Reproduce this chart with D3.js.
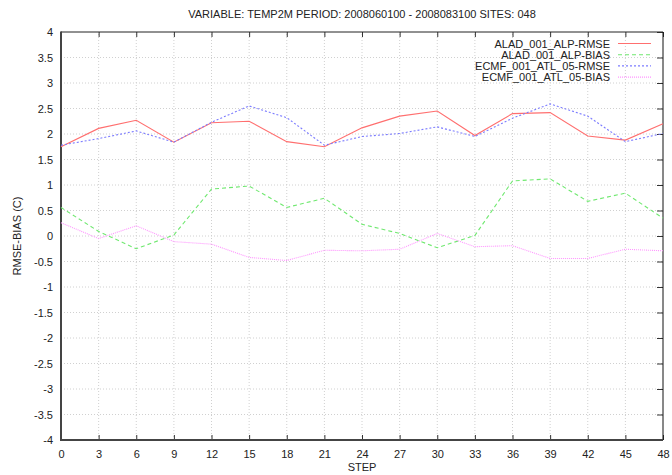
<!DOCTYPE html>
<html>
<head>
<meta charset="utf-8">
<script src="https://cdn.jsdelivr.net/npm/d3@7"></script>
<style>
	body { margin: 0; background: #fff; }
	svg { display: block; font-family: 'Liberation Sans', Arial, sans-serif; }
</style>
</head>
<body>
<div id="chart"></div>
<script>
const steps = [0, 3, 6, 9, 12, 15, 18, 21, 24, 27, 30, 33, 36, 39, 42, 45, 48];
const yTicks = [-4, -3.5, -3, -2.5, -2, -1.5, -1, -0.5, 0, 0.5, 1, 1.5, 2, 2.5, 3, 3.5, 4];

const aladRmse = [1.75, 2.11, 2.27, 1.84, 2.22, 2.25, 1.85, 1.75, 2.12, 2.35, 2.45, 1.97, 2.40, 2.42, 1.96, 1.88, 2.20];
const aladBias = [0.56, 0.09, -0.25, 0.02, 0.92, 0.98, 0.56, 0.74, 0.23, 0.05, -0.23, 0.01, 1.08, 1.12, 0.68, 0.84, 0.35];
const ecmfRmse = [1.78, 1.91, 2.06, 1.84, 2.23, 2.55, 2.32, 1.78, 1.95, 2.01, 2.14, 1.95, 2.31, 2.59, 2.35, 1.85, 2.01];
const ecmfBias = [0.26, -0.05, 0.20, -0.11, -0.16, -0.42, -0.48, -0.28, -0.29, -0.26, 0.05, -0.21, -0.19, -0.44, -0.44, -0.26, -0.29];

const seriesNames = ['ALAD_001_ALP-RMSE', 'ALAD_001_ALP-BIAS', 'ECMF_001_ATL_05-RMSE', 'ECMF_001_ATL_05-BIAS'];
const seriesValues = [aladRmse, aladBias, ecmfRmse, ecmfBias];
const seriesColors = ['#ff6f6f', '#6fe86f', '#7c7cff', '#ff94ff'];
const seriesDash = [null, '4,3', '2,2', '1,1'];

const width = 672;
const height = 475;
const margin = {top: 32, right: 9, bottom: 35, left: 61};

const svg = d3.select('#chart').append('svg')
	.attr('width', width)
	.attr('height', height);

const x = d3.scaleLinear().domain([0, 48]).range([margin.left, width - margin.right]);
const y = d3.scaleLinear().domain([-4, 4]).range([height - margin.bottom, margin.top]);

// grid
svg.append('g')
	.selectAll('line')
	.data(steps.slice(1, -1))
	.enter().append('line')
	.attr('x1', d => x(d)).attr('x2', d => x(d))
	.attr('y1', y(-4)).attr('y2', y(4))
	.style('stroke', '#d0d0d0')
	.style('stroke-dasharray', '1,2');

svg.append('g')
	.selectAll('line')
	.data(yTicks.slice(1, -1))
	.enter().append('line')
	.attr('x1', x(0)).attr('x2', x(48))
	.attr('y1', d => y(d)).attr('y2', d => y(d))
	.style('stroke', '#d0d0d0')
	.style('stroke-dasharray', '1,2');

// ticks: inner, mirrored
const xAxisB = svg.append('g')
	.attr('transform', `translate(0,${y(-4)})`)
	.call(d3.axisBottom(x).tickValues(steps).tickSizeInner(-5).tickSizeOuter(0).tickPadding(10));
const xAxisT = svg.append('g')
	.attr('transform', `translate(0,${y(4)})`)
	.call(d3.axisTop(x).tickValues(steps).tickSizeInner(-5).tickSizeOuter(0).tickFormat(''));
const yAxisL = svg.append('g')
	.attr('transform', `translate(${x(0)},0)`)
	.call(d3.axisLeft(y).tickValues(yTicks).tickSizeInner(0).tickSizeOuter(0).tickPadding(8).tickFormat(d3.format('')));
const yAxisR = svg.append('g')
	.attr('transform', `translate(${x(48)},0)`)
	.call(d3.axisRight(y).tickValues(yTicks).tickSizeInner(-6).tickSizeOuter(0).tickFormat(''));

[xAxisB, xAxisT, yAxisL, yAxisR].forEach(a => {
	a.select('.domain').remove();
	a.selectAll('line').style('stroke', '#333');
	a.selectAll('text')
		.style('font-family', "'Liberation Sans', Arial, sans-serif")
		.style('font-size', '11px')
		.style('fill', '#222');
});
yAxisL.selectAll('text').text(d => d3.format('')(d).replace('\u2212', '-'));

// border
svg.append('line')
	.attr('x1', x(0)).attr('x2', x(48)).attr('y1', y(4)).attr('y2', y(4))
	.style('stroke', '#222').style('stroke-width', 1);
svg.append('line')
	.attr('x1', x(48)).attr('x2', x(48)).attr('y1', y(4)).attr('y2', y(-4))
	.style('stroke', '#111').style('stroke-width', 1);
svg.append('line')
	.attr('x1', x(0)).attr('x2', x(0)).attr('y1', y(4) - 0.5).attr('y2', y(-4) + 1)
	.style('stroke', '#444').style('stroke-width', 2);
svg.append('line')
	.attr('x1', x(0) - 1).attr('x2', x(48)).attr('y1', y(-4)).attr('y2', y(-4))
	.style('stroke', '#444').style('stroke-width', 2);

// series
const line = d3.line()
	.x((d, i) => x(steps[i]))
	.y(d => y(d));

svg.append('g')
	.selectAll('path')
	.data(seriesValues)
	.enter().append('path')
	.attr('d', line)
	.style('fill', 'none')
	.style('stroke', (d, i) => seriesColors[i])
	.style('stroke-width', 1.1)
	.style('stroke-dasharray', (d, i) => seriesDash[i]);

// legend
const legend = svg.append('g')
	.selectAll('g')
	.data(seriesNames)
	.enter().append('g')
	.attr('transform', (d, i) => `translate(0,${43.5 + i * 11.2})`);

legend.append('text')
	.attr('x', 610)
	.attr('y', 4)
	.attr('text-anchor', 'end')
	.style('font-size', '11px')
	.style('fill', '#222')
	.text(d => d);

legend.append('line')
	.attr('x1', 618).attr('x2', 651)
	.attr('y1', 0).attr('y2', 0)
	.style('stroke', (d, i) => seriesColors[i])
	.style('stroke-width', 1.1)
	.style('stroke-dasharray', (d, i) => seriesDash[i]);

// title and labels
svg.append('text')
	.attr('x', (x(0) + x(48)) / 2)
	.attr('y', 18)
	.attr('text-anchor', 'middle')
	.style('font-size', '11px')
	.style('fill', '#222')
	.text('VARIABLE: TEMP2M PERIOD: 2008060100 - 2008083100 SITES: 048');

svg.append('text')
	.attr('x', (x(0) + x(48)) / 2)
	.attr('y', 471)
	.attr('text-anchor', 'middle')
	.style('font-size', '11px')
	.style('fill', '#222')
	.text('STEP');

svg.append('text')
	.attr('transform', `translate(21,${y(0)}) rotate(-90)`)
	.attr('text-anchor', 'middle')
	.style('font-size', '11px')
	.style('fill', '#222')
	.text('RMSE-BIAS (C)');
</script>
</body>
</html>
